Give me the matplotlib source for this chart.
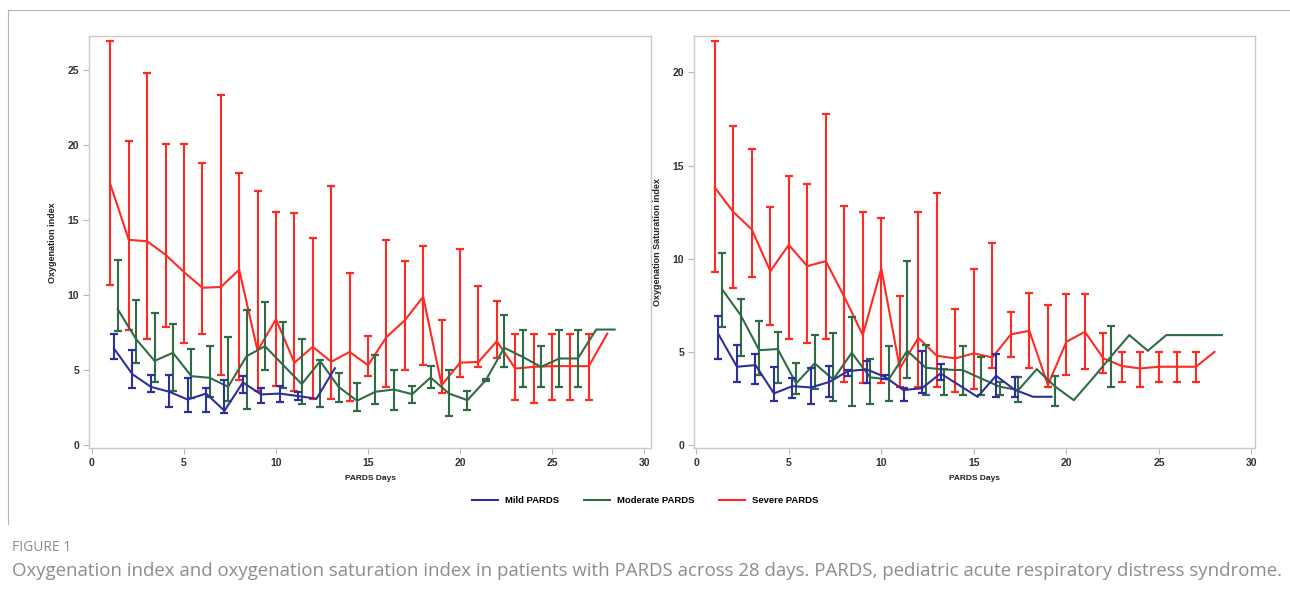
import numpy as np
import matplotlib
matplotlib.use("Agg")
import matplotlib.pyplot as plt
from matplotlib.lines import Line2D

nan = np.nan

# Giorni (asse x) per ogni gruppo
days = np.arange(1, 29)
days_mild_oi = np.arange(1, 14)
days_mild_osi = np.arange(1, 20)

# Oxygenation index (OI) - media, limite basso, limite alto
severe_oi_mean = [17.4, 13.7, 13.6, 12.7, 11.55, 10.5, 10.55, 11.7, 6.3, 8.4, 5.5, 6.56, 5.56, 6.22,
                  5.33, 7.2, 8.33, 9.9, 4.0, 5.5, 5.55, 6.93, 5.11, 5.22, 5.27, 5.27, 5.27, 7.44]
severe_oi_low = [10.67, 7.7, 7.1, 7.9, 6.8, 7.4, 4.67, 4.33, 3.6, 3.96, 3.62, 3.1, 3.1, 2.96,
                 4.6, 3.89, 4.98, 5.33, 3.5, 4.55, 5.18, 5.82, 3.04, 2.84, 3.04, 3.04, 3.04, nan]
severe_oi_high = [26.95, 20.3, 24.8, 20.07, 20.07, 18.8, 23.35, 18.15, 16.95, 15.55, 15.5, 13.85, 17.3, 11.5,
                  7.3, 13.67, 12.3, 13.27, 8.33, 13.1, 10.6, 9.64, 7.44, 7.44, 7.44, 7.44, 7.44, nan]

moderate_oi_mean = [9.07, 7.07, 5.62, 6.16, 4.6, 4.49, 3.89, 5.93, 6.6, 5.33, 4.07, 5.6, 3.89, 2.96,
                    3.56, 3.71, 3.4, 4.51, 3.44, 3.0, 4.33, 6.49, 5.89, 5.22, 5.78, 5.78, 7.71, 7.71]
moderate_oi_low = [7.62, 5.51, 4.18, 3.6, 3.11, 3.22, 2.93, 2.4, 5.04, 3.78, 2.73, 2.56, 2.89, 2.29,
                   2.71, 2.33, 2.78, 3.78, 1.96, 2.33, 4.25, 5.22, 3.89, 3.89, 3.89, 3.89, nan, nan]
moderate_oi_high = [12.33, 9.67, 8.82, 8.11, 6.42, 6.6, 7.22, 9.0, 9.56, 8.22, 7.11, 5.65, 4.84, 4.16,
                    6.0, 5.04, 3.96, 5.27, 5.0, 3.62, 4.4, 8.67, 7.71, 6.6, 7.71, 7.71, nan, nan]

mild_oi_mean = [6.44, 4.73, 3.89, 3.56, 3.04, 3.44, 2.29, 4.18, 3.38, 3.44, 3.27, 3.1, 5.13]
mild_oi_low = [5.73, 3.82, 3.56, 2.51, 2.22, 2.22, 2.11, 3.49, 2.84, 2.89, 3.0, nan, nan]
mild_oi_high = [7.44, 6.33, 4.67, 4.67, 4.51, 3.82, 4.33, 4.62, 3.82, 3.93, 3.56, nan, nan]

# Oxygenation saturation index (OSI)
severe_osi_mean = [13.82, 12.51, 11.57, 9.33, 10.74, 9.6, 9.87, 7.95, 5.9, 9.47, 4.11, 5.75, 4.79, 4.65,
                   4.92, 4.7, 5.94, 6.13, 3.22, 5.54, 6.08, 4.65, 4.24, 4.11, 4.2, 4.2, 4.2, 5.0]
severe_osi_low = [9.26, 8.44, 9.03, 6.43, 5.68, 5.49, 5.68, 3.39, 3.31, 3.31, 3.13, 3.13, 3.13, 2.86,
                  3.0, 4.11, 4.74, 4.11, 3.13, 3.75, 4.06, 3.88, 3.39, 3.13, 3.39, 3.39, 3.39, nan]
severe_osi_high = [21.68, 17.12, 15.91, 12.78, 14.42, 14.03, 17.79, 12.83, 12.49, 12.21, 7.99, 12.49, 13.55, 7.29,
                   9.47, 10.82, 7.15, 8.17, 7.51, 8.13, 8.13, 5.99, 5.0, 5.0, 5.0, 5.0, 5.0, nan]

moderate_osi_mean = [8.35, 6.97, 5.09, 5.15, 3.31, 4.38, 3.52, 4.95, 3.63, 3.52, 5.06, 4.15, 4.05, 4.02,
                     3.57, 3.13, 2.95, 4.07, 3.13, 2.41, 3.55, 4.74, 5.9, 5.06, 5.9, 5.9, 5.9, 5.9]
moderate_osi_low = [6.31, 4.79, 3.75, 3.34, 2.73, 3.0, 2.38, 2.11, 2.2, 2.36, 3.61, 2.68, 2.7, 2.68,
                    2.68, 2.68, 2.32, nan, 2.11, nan, nan, 3.09, nan, nan, nan, nan, nan, nan]
moderate_osi_high = [10.31, 7.83, 6.67, 6.08, 4.38, 5.9, 6.02, 6.85, 4.6, 5.31, 9.88, 5.36, 4.1, 5.32,
                     4.7, 3.39, 3.66, nan, 3.72, nan, nan, 6.38, nan, nan, nan, nan, nan, nan]

mild_osi_mean = [5.95, 4.2, 4.29, 2.77, 3.16, 3.09, 3.39, 3.97, 4.06, 3.66, 2.95, 3.05, 3.84, nan,
                 2.59, 3.72, 2.97, 2.59, 2.59]
mild_osi_low = [4.6, 3.39, 3.27, 2.38, 2.5, 2.2, 2.59, 3.7, 3.31, 3.52, 2.38, 2.77, 3.5, nan,
                nan, 2.59, 2.59, nan, nan]
mild_osi_high = [6.92, 5.36, 4.88, 4.2, 3.61, 4.11, 4.24, 4.02, 4.52, 3.75, 3.07, 5.02, 4.36, nan,
                 nan, 4.88, 3.66, nan, nan]

# Colori e offset dei gruppi
col_mild = "#2e2e9c"
col_mod = "#2f6b45"
col_sev = "#ff2a22"
off = {"mild": 0.2, "mod": 0.4, "sev": 0.0}

tick_font = {"family": ["Liberation Sans", "DejaVu Sans"], "weight": "bold"}


def disegna(ax, x, mean, low, high, color):
    x = np.asarray(x, dtype=float)
    mean = np.asarray(mean, dtype=float)
    low = np.asarray(low, dtype=float)
    high = np.asarray(high, dtype=float)
    ok = ~np.isnan(mean)
    ax.plot(x[ok], mean[ok], color=color, lw=1.5, zorder=3, solid_joinstyle="miter")
    e = ~np.isnan(low)
    ax.errorbar(x[e], mean[e], yerr=[mean[e] - low[e], high[e] - mean[e]], fmt="none",
                ecolor=color, elinewidth=1.5, capsize=2.6, capthick=1.6, zorder=3)


def stile(ax, ylabel, ylim, yticks):
    ax.set_xlim(-0.16, 30.4)
    ax.set_ylim(*ylim)
    ax.set_xticks([0, 5, 10, 15, 20, 25, 30])
    ax.set_yticks(yticks)
    for s in ax.spines.values():
        s.set_color("#cfc8c4")
        s.set_linewidth(1.0)
    ax.tick_params(colors="#bdb6b2", labelcolor="#333333", length=4, width=0.8, pad=3)
    for lab in ax.get_xticklabels() + ax.get_yticklabels():
        lab.set_fontproperties(tick_font)
        lab.set_fontsize(7.5)
    ax.set_xlabel("PARDS Days", fontsize=6, fontweight="bold", color="#222222",
                  family=["Liberation Sans", "DejaVu Sans"], labelpad=5)
    ax.set_ylabel(ylabel, fontsize=6.5, fontweight="bold", color="#222222",
                  family=["Liberation Sans", "DejaVu Sans"], labelpad=8)


fig = plt.figure(figsize=(12.9, 5.9), dpi=100)

ax1 = fig.add_axes([0.069, 0.240, 0.436, 0.699])
disegna(ax1, days + off["sev"], severe_oi_mean, severe_oi_low, severe_oi_high, col_sev)
disegna(ax1, days + off["mod"], moderate_oi_mean, moderate_oi_low, moderate_oi_high, col_mod)
disegna(ax1, days_mild_oi + off["mild"], mild_oi_mean, mild_oi_low, mild_oi_high, col_mild)
stile(ax1, "Oxygenation index", (-0.22, 27.3), [0, 5, 10, 15, 20, 25])

ax2 = fig.add_axes([0.538, 0.240, 0.435, 0.699])
disegna(ax2, days + off["sev"], severe_osi_mean, severe_osi_low, severe_osi_high, col_sev)
disegna(ax2, days + off["mod"], moderate_osi_mean, moderate_osi_low, moderate_osi_high, col_mod)
disegna(ax2, days_mild_osi + off["mild"], mild_osi_mean, mild_osi_low, mild_osi_high, col_mild)
stile(ax2, "Oxygenation Saturation index", (-0.18, 21.95), [0, 5, 10, 15, 20])
ax2.set_xlim(-0.12, 30.2)

# Legenda comune
handles = [Line2D([], [], color=col_mild, lw=1.5),
           Line2D([], [], color=col_mod, lw=1.5),
           Line2D([], [], color=col_sev, lw=1.5)]
fig.legend(handles, ["Mild PARDS", "Moderate PARDS", "Severe PARDS"], loc="center",
           bbox_to_anchor=(0.5, 0.151), ncol=3, frameon=False, handlelength=2.8,
           columnspacing=2.6, handletextpad=0.7,
           prop={"family": ["Liberation Sans", "DejaVu Sans"], "weight": "bold", "size": 6.8})

# Cornice e didascalia
fig.add_artist(Line2D([0.006, 1.0], [0.983, 0.983], color="#b5b5b5", lw=0.8))
fig.add_artist(Line2D([0.006, 0.006], [0.983, 0.112], color="#b5b5b5", lw=0.8))
fig.text(0.009, 0.072, "FIGURE 1", fontsize=10, color="#8c8c8c", va="center",
         family=["Open Sans", "DejaVu Sans"])
fig.text(0.009, 0.032, "Oxygenation index and oxygenation saturation index in patients with PARDS "
         "across 28 days. PARDS, pediatric acute respiratory distress syndrome.",
         fontsize=13.4, color="#8c8c8c", va="center", family=["Open Sans", "DejaVu Sans"])

fig.savefig("out.png", dpi=100)
